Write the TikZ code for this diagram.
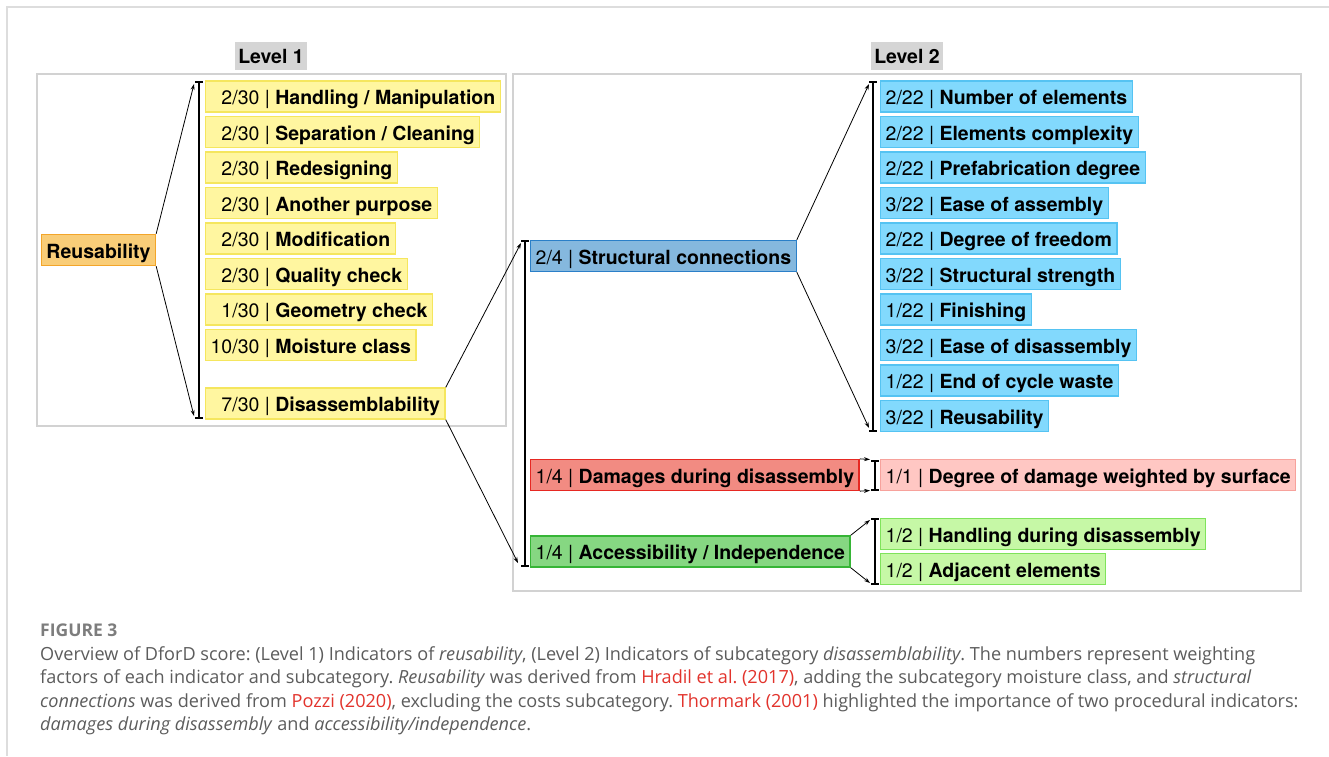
\documentclass[tikz,border=0pt]{standalone}
\usepackage{fontspec}
\setmainfont{TeX Gyre Heros}
\newfontfamily\capfont{Open Sans}
\usetikzlibrary{arrows.meta}
\definecolor{ylfill}{HTML}{FFF6A0}
\definecolor{yldraw}{HTML}{F5E65E}
\definecolor{orfill}{HTML}{F9CD78}
\definecolor{ordraw}{HTML}{F3A52A}
\definecolor{blfill}{HTML}{82D9FD}
\definecolor{bldraw}{HTML}{55C3F2}
\definecolor{scfill}{HTML}{85B8DE}
\definecolor{scdraw}{HTML}{2A7FC8}
\definecolor{rdfill}{HTML}{F28B82}
\definecolor{rddraw}{HTML}{E62822}
\definecolor{pkfill}{HTML}{FFC7C3}
\definecolor{pkdraw}{HTML}{F7A29C}
\definecolor{gnfill}{HTML}{86D782}
\definecolor{gndraw}{HTML}{36B536}
\definecolor{lgfill}{HTML}{C6F8A6}
\definecolor{lgdraw}{HTML}{7FE35B}
\definecolor{framegray}{HTML}{D2D2D2}
\definecolor{cardgray}{HTML}{DDDDDD}
\definecolor{labgray}{HTML}{D5D5D5}
\definecolor{captext}{HTML}{5C5C5C}
\definecolor{capred}{HTML}{E2332C}
\newcommand\ytxt[2]{\makebox[2.502em][r]{#1} | \textbf{#2}}
\newcommand\btxt[2]{#1 | \textbf{#2}}
\frenchspacing
\begin{document}
\begin{tikzpicture}[x=1pt,y=-1pt,
  boxbase/.style={rectangle, draw, line width=1.3pt, anchor=west, minimum height=31pt,
    inner xsep=5pt, inner ysep=0pt, text height=17.5pt, text depth=1pt,
    font=\fontsize{19.5}{23}\selectfont},
  ybox/.style={boxbase, fill=ylfill, draw=yldraw},
  obox/.style={boxbase, fill=orfill, draw=ordraw, anchor=center},
  bbox/.style={boxbase, fill=blfill, draw=bldraw},
  sbox/.style={boxbase, fill=scfill, draw=scdraw},
  rbox/.style={boxbase, fill=rdfill, draw=rddraw},
  pbox/.style={boxbase, fill=pkfill, draw=pkdraw},
  gbox/.style={boxbase, fill=gnfill, draw=gndraw},
  lbox/.style={boxbase, fill=lgfill, draw=lgdraw},
  levlab/.style={rectangle, fill=labgray, minimum width=72pt, minimum height=28pt,
    inner sep=0pt, font=\fontsize{19.5}{23}\selectfont\bfseries},
  framebox/.style={draw=framegray, line width=2pt},
  conn/.style={line width=0.8pt, -{Stealth[length=6pt,width=4pt]}},
  brk/.style={line width=1.5pt},
  captxt/.style={anchor=base west, inner sep=0pt, text=captext,
    font=\capfont\fontsize{18.1}{20}\selectfont}
]
\useasboundingbox (0,0) rectangle (1329,756);
\fill[white] (0,0) rectangle (1329,756);
% card border
\draw[cardgray, line width=1.2pt] (1329,7) -- (7,7) -- (7,756);

% frames
\draw[framebox] (37,74) rectangle (506,426);
\draw[framebox] (513,74) rectangle (1301,591);

% level labels
\node[levlab] (lev1) at (271,56) {Level 1};
\node[levlab] (lev2) at (907,56) {Level 2};

% Level 1
\node[obox] (reu) at (98.5,250) {\textbf{Reusability}};
\node[ybox] (y1) at (205,96.5) {\ytxt{2/30}{Handling / Manipulation}};
\node[ybox] (y2) at (205,132) {\ytxt{2/30}{Separation / Cleaning}};
\node[ybox] (y3) at (205,167.5) {\ytxt{2/30}{Redesigning}};
\node[ybox] (y4) at (205,203) {\ytxt{2/30}{Another purpose}};
\node[ybox] (y5) at (205,238.5) {\ytxt{2/30}{Modification}};
\node[ybox] (y6) at (205,274) {\ytxt{2/30}{Quality check}};
\node[ybox] (y7) at (205,309.5) {\ytxt{1/30}{Geometry check}};
\node[ybox] (y8) at (205,345) {\ytxt{10/30}{Moisture class}};
\node[ybox] (y9) at (205,403.5) {\ytxt{7/30}{Disassemblability}};

\coordinate (b1t) at (194,84);
\coordinate (b1b) at (194,416);
\draw[brk] (199,82) -- (199,418) (195,82) -- (203,82) (195,418) -- (203,418);
\draw[conn] (reu.north east) -- (b1t);
\draw[conn] (reu.south east) -- (b1b);

% Level 2 subcategories
\node[sbox] (sc) at (530,256) {\btxt{2/4}{Structural connections}};
\node[rbox] (dm) at (530,475) {\btxt{1/4}{Damages during disassembly}};
\node[gbox] (ac) at (530,551.5) {\btxt{1/4}{Accessibility / Independence}};

\coordinate (b2t) at (521,243);
\coordinate (b2b) at (518,563);
\draw[brk] (525,241) -- (525,566) (521,241) -- (529,241) (521,566) -- (529,566);
\draw[conn] (y9.north east) -- (b2t);
\draw[conn] (y9.south east) -- (b2b);

% structural connections indicators
\node[bbox] (s1) at (880,96.5) {\btxt{2/22}{Number of elements}};
\node[bbox] (s2) at (880,132) {\btxt{2/22}{Elements complexity}};
\node[bbox] (s3) at (880,167.5) {\btxt{2/22}{Prefabrication degree}};
\node[bbox] (s4) at (880,203) {\btxt{3/22}{Ease of assembly}};
\node[bbox] (s5) at (880,238.5) {\btxt{2/22}{Degree of freedom}};
\node[bbox] (s6) at (880,274) {\btxt{3/22}{Structural strength}};
\node[bbox] (s7) at (880,309.5) {\btxt{1/22}{Finishing}};
\node[bbox] (s8) at (880,345) {\btxt{3/22}{Ease of disassembly}};
\node[bbox] (s9) at (880,380.5) {\btxt{1/22}{End of cycle waste}};
\node[bbox] (s10) at (880,416) {\btxt{3/22}{Reusability}};

\coordinate (b3t) at (869,84);
\coordinate (b3b) at (869,428);
\draw[brk] (873,82) -- (873,431) (869,82) -- (877,82) (869,431) -- (877,431);
\draw[conn] (sc.north east) -- (b3t);
\draw[conn] (sc.south east) -- (b3b);

% damages indicator
\node[pbox] (d1) at (880,475) {\btxt{1/1}{Degree of damage weighted by surface}};
\coordinate (b4t) at (870,459.5);
\coordinate (b4b) at (870,490.5);
\draw[brk] (875,461) -- (875,490) (871,461) -- (879,461) (871,490) -- (879,490);
\draw[conn] (dm.north east) -- (b4t);
\draw[conn] (dm.south east) -- (b4b);

% accessibility indicators
\node[lbox] (a1) at (880,534) {\btxt{1/2}{Handling during disassembly}};
\node[lbox] (a2) at (880,569) {\btxt{1/2}{Adjacent elements}};
\coordinate (b5t) at (870,520);
\coordinate (b5b) at (870,583);
\draw[brk] (875,519) -- (875,584) (871,519) -- (879,519) (871,584) -- (879,584);
\draw[conn] (ac.north east) -- (b5t);
\draw[conn] (ac.south east) -- (b5b);

% caption
\node[captxt, font=\capfont\fontsize{17.5}{20}\selectfont\bfseries, text=captext!80] (fig) at (40,636) {FIGURE 3};
\node[captxt] (c1) at (40,660) {Overview of DforD score: (Level 1) Indicators of \textit{reusability}, (Level 2) Indicators of subcategory \textit{disassemblability}. The numbers represent weighting};
\node[captxt] (c2) at (40,683.5) {factors of each indicator and subcategory. \textit{Reusability} was derived from \textcolor{capred}{Hradil et al. (2017)}, adding the subcategory moisture class, and \textit{structural}};
\node[captxt] (c3) at (40,707) {\textit{connections} was derived from \textcolor{capred}{Pozzi (2020)}, excluding the costs subcategory. \textcolor{capred}{Thormark (2001)} highlighted the importance of two procedural indicators:};
\node[captxt] (c4) at (40,730.5) {\textit{damages during disassembly} and \textit{accessibility/independence}.};
\end{tikzpicture}
\end{document}
